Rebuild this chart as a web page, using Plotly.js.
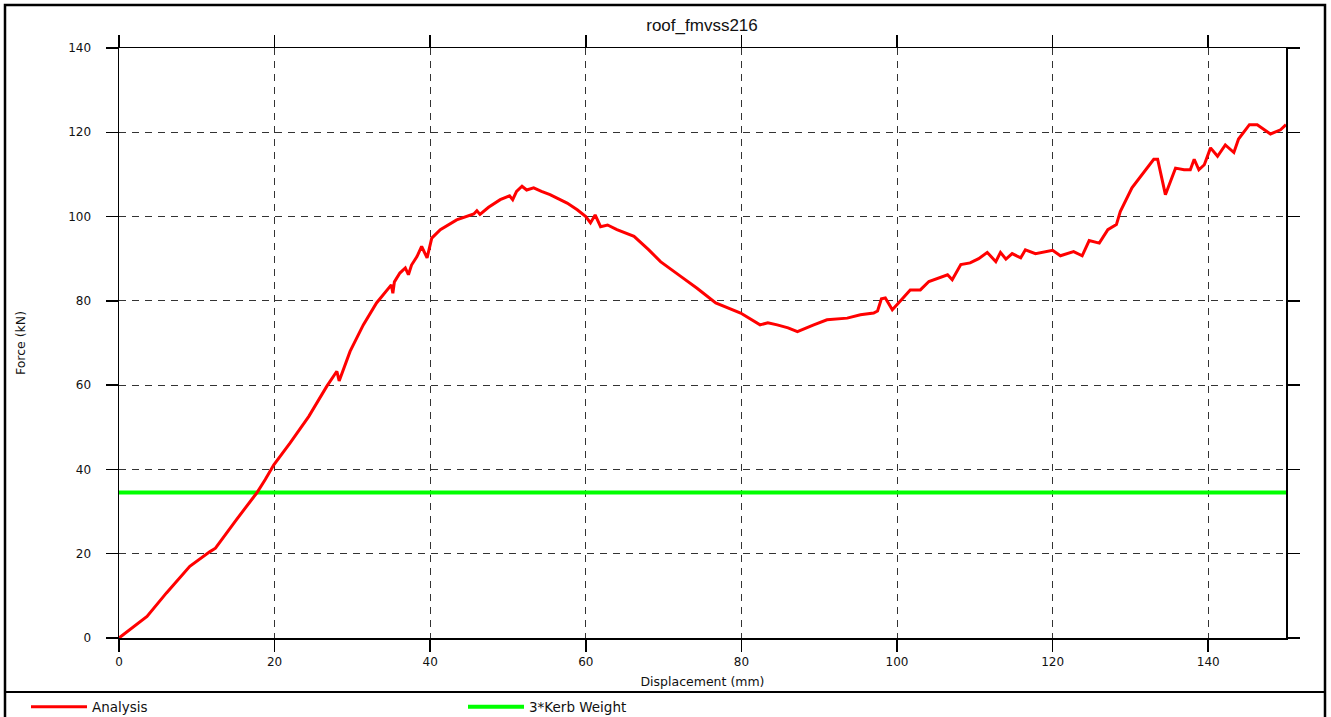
<!DOCTYPE html>
<html>
<head>
<meta charset="utf-8">
<script src="https://cdn.plot.ly/plotly-3.0.1.min.js"></script>
<style>
  html, body { margin: 0; padding: 0; background: #ffffff; overflow: hidden; }
  #chart { width: 1331px; height: 717px; }
</style>
</head>
<body>
<div id="chart"></div>
<script>
// ---- data ----
const chartTitle = "roof_fmvss216";
const xAxisTitle = "Displacement (mm)";
const yAxisTitle = "Force (kN)";
const seriesNames = ["Analysis", "3*Kerb Weight"];

const analysisX = [0, 1.5, 3.6, 6.1, 9.1, 11.7, 12.4, 15.1, 17.7, 18.8, 19.9, 22.0, 24.4, 26.7, 28.0, 28.3, 29.7, 31.4, 33.1, 35.0,
  35.2, 35.4, 36.1, 36.8, 37.2, 37.6, 38.3, 38.9, 39.6, 40.2, 41.3, 43.4, 44.7, 45.6, 46.0, 46.4, 47.5, 49.0, 50.2, 50.6,
  51.1, 51.8, 52.4, 53.3, 54.3, 55.4, 56.5, 57.6, 58.9, 60.0, 60.6, 61.2, 61.9, 62.8, 64.0, 66.2, 68.1, 69.6, 72.2, 74.3,
  76.7, 78.3, 79.9, 82.4, 83.4, 84.6, 86.0, 87.2, 88.3, 89.3, 91.0, 92.3, 93.6, 95.3, 97.0, 97.5, 98.0, 98.5, 99.4, 100.4,
  101.7, 103.0, 104.1, 106.5, 107.1, 108.2, 109.4, 110.5, 111.6, 112.7, 113.3, 114.0, 114.8, 115.9, 116.5, 117.8, 120.0, 121.0, 122.7, 123.8,
  124.7, 126.0, 127.1, 128.2, 128.7, 130.2, 132.2, 133.0, 133.5, 134.5, 135.8, 136.9, 137.7, 138.2, 138.8, 139.5, 140.3, 141.2, 142.2, 143.3,
  143.9, 145.3, 146.3, 148.0, 149.3, 150.0];
const analysisY = [0, 2.2, 5.1, 10.7, 17.0, 20.5, 21.3, 28.1, 34.4, 37.6, 41.1, 46.3, 52.6, 59.7, 63.3, 61.0, 68.0, 74.3, 79.5, 83.8,
  81.8, 84.5, 86.6, 87.8, 86.2, 88.5, 90.5, 92.9, 90.2, 94.9, 96.9, 99.2, 100.0, 100.6, 101.4, 100.5, 102.2, 104.0, 104.9, 104.0,
  106.0, 107.2, 106.3, 106.8, 106.0, 105.2, 104.2, 103.2, 101.6, 100.0, 98.5, 100.4, 97.6, 98.0, 96.9, 95.3, 92.1, 89.3, 85.8, 83.0,
  79.5, 78.3, 77.1, 74.3, 74.8, 74.3, 73.6, 72.7, 73.6, 74.3, 75.5, 75.7, 75.9, 76.7, 77.1, 77.6, 80.5, 80.7, 77.9, 79.9,
  82.6, 82.6, 84.6, 86.2, 85.0, 88.6, 89.0, 90.0, 91.5, 89.3, 91.5, 89.9, 91.2, 90.2, 92.1, 91.2, 92.0, 90.7, 91.7, 90.7,
  94.3, 93.7, 96.9, 98.1, 101.2, 106.8, 111.5, 113.6, 113.6, 105.2, 111.5, 111.1, 111.1, 113.6, 111.1, 112.3, 116.3, 114.3, 117.0, 115.2,
  118.4, 121.8, 121.8, 119.6, 120.6, 121.8];

const kerbX = [0, 150];
const kerbY = [34.5, 34.5];

const xTicks = [0, 20, 40, 60, 80, 100, 120, 140];
const yTicks = [0, 20, 40, 60, 80, 100, 120, 140];

// ---- layout geometry (pixels) ----
const W = 1331, H = 717;
const M = { l: 119, r: 45, t: 48, b: 79 };
const pw = W - M.l - M.r, ph = H - M.t - M.b;
const px = v => (v - M.l) / pw;          // pixel x -> paper x
const py = v => (H - M.b - v) / ph;      // pixel y -> paper y

const sans = "DejaVu Sans, Verdana, sans-serif";
const helv = "Liberation Sans, Arial, Helvetica, sans-serif";

const traces = [
  {
    x: kerbX, y: kerbY, type: "scatter", mode: "lines",
    name: seriesNames[1], legendrank: 2,
    line: { color: "#00ff00", width: 4 }
  },
  {
    x: analysisX, y: analysisY, type: "scatter", mode: "lines",
    name: seriesNames[0], legendrank: 1,
    line: { color: "#ff0000", width: 3 }
  }
];

const axisCommon = {
  showline: true, linecolor: "#000", linewidth: 1.5, mirror: "ticks",
  ticks: "outside", ticklen: 12, tickwidth: 1.5, tickcolor: "#000",
  showgrid: true, gridcolor: "#333", gridwidth: 1, griddash: "7px,6px",
  zeroline: false, automargin: false,
  tickfont: { family: sans, size: 12, color: "#111" }
};

const layout = {
  width: W, height: H,
  autosize: false,
  margin: M,
  paper_bgcolor: "#ffffff", plot_bgcolor: "#ffffff",
  title: {
    text: chartTitle, x: px(702), xanchor: "center", xref: "paper",
    y: 1 - 25 / H, yanchor: "middle",
    font: { family: helv, size: 17, color: "#111" }
  },
  xaxis: Object.assign({}, axisCommon, {
    range: [0, 150], tickvals: xTicks, ticktext: xTicks.map(String),
    title: { text: xAxisTitle, font: { family: sans, size: 12.5, color: "#111" } }
  }),
  yaxis: Object.assign({}, axisCommon, {
    range: [0, 140], tickvals: yTicks, ticktext: yTicks.map(String),
    ticklabelstandoff: 12, automargin: true,
    title: { text: yAxisTitle, standoff: 40, font: { family: sans, size: 12.5, color: "#111" } }
  }),
  showlegend: true,
  legend: {
    orientation: "h",
    xref: "container", yref: "container",
    x: 26 / W, xanchor: "left", y: (H - 707) / H, yanchor: "middle",
    entrywidth: 366, entrywidthmode: "pixels", itemwidth: 56,
    font: { family: sans, size: 13.5, color: "#111" },
    bgcolor: "rgba(0,0,0,0)"
  },
  shapes: [
    { type: "rect", xref: "paper", yref: "paper", x0: px(5), x1: px(1325), y0: py(720), y1: py(5),
      line: { color: "#000", width: 2.5 }, fillcolor: "rgba(0,0,0,0)", layer: "above" },
    { type: "line", xref: "paper", yref: "paper", x0: px(5), x1: px(1325), y0: py(692), y1: py(692),
      line: { color: "#000", width: 2 }, layer: "above" }
  ]
};

Plotly.newPlot("chart", traces, layout, { displayModeBar: false, staticPlot: true });
</script>
</body>
</html>
